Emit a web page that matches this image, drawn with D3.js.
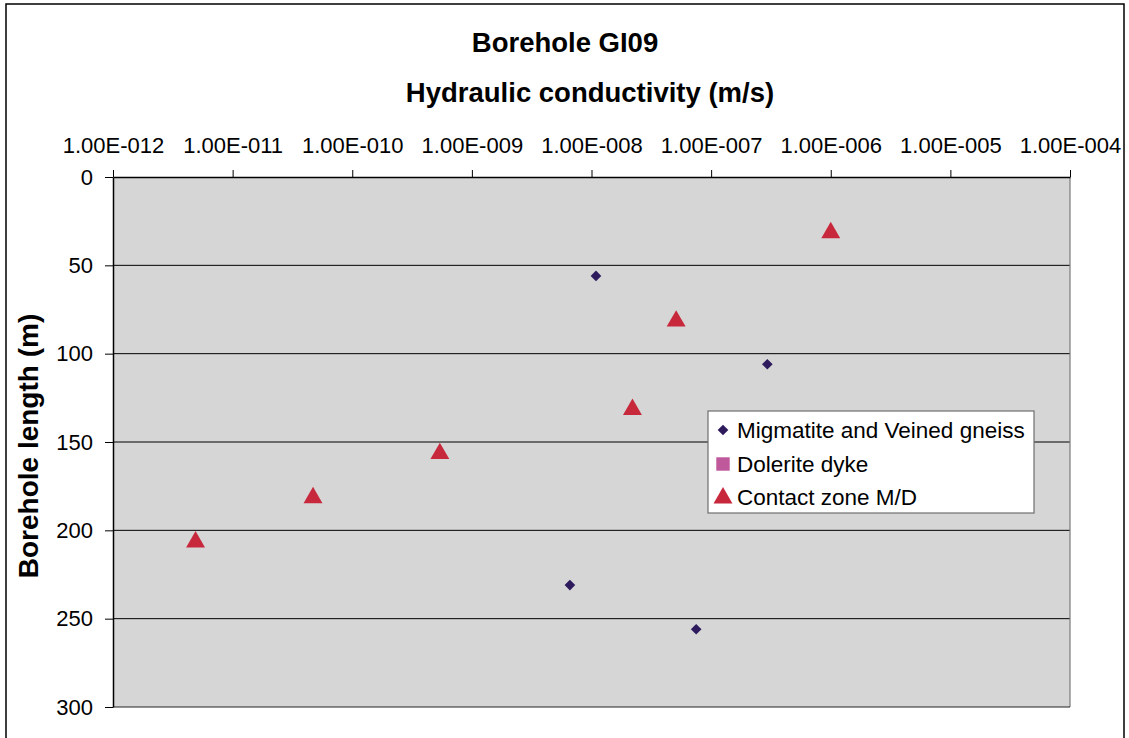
<!DOCTYPE html>
<html>
<head>
<meta charset="utf-8">
<script src="https://cdn.jsdelivr.net/npm/d3@7"></script>
<style>
  html, body { margin: 0; padding: 0; background: #fff; }
  svg text { font-family: Arial, "Liberation Sans", sans-serif; fill: #000; }
</style>
</head>
<body>
<svg id="chart" width="1129" height="738"></svg>
<script>
// ---- Data ----
const chartTitle = "Borehole GI09";
const xAxisTitle = "Hydraulic conductivity (m/s)";
const yAxisTitle = "Borehole length (m)";
const seriesNames = ["Migmatite and Veined gneiss", "Dolerite dyke", "Contact zone M/D"];

// Migmatite and Veined gneiss: [conductivity, borehole length]
const migmatiteK = [1.09e-8, 2.95e-7, 6.6e-9, 7.5e-8];
const migmatiteDepth = [56, 106, 231, 256];
// Dolerite dyke: no measured points
const doleriteK = [];
const doleriteDepth = [];
// Contact zone M/D
const contactK = [1.0e-6, 5.1e-8, 2.2e-8, 5.4e-10, 4.7e-11, 4.9e-12];
const contactDepth = [31, 81, 131, 156, 181, 206];

const xTickValues = [1e-12, 1e-11, 1e-10, 1e-9, 1e-8, 1e-7, 1e-6, 1e-5, 1e-4];
const yTickValues = [0, 50, 100, 150, 200, 250, 300];

// ---- Layout ----
const W = 1129, H = 738;
const plot = { left: 113, right: 1070, top: 177, bottom: 707 };
const colors = { mig: "#2d1b5e", dol: "#c0589c", con: "#c8283c" };

const svg = d3.select("#chart");

const x = d3.scaleLog().domain([1e-12, 1e-4]).range([plot.left, plot.right]);
const y = d3.scaleLinear().domain([0, 300]).range([plot.top, plot.bottom]);

function fmtSci(v) {
  const e = Math.round(Math.log10(v));
  const m = v / Math.pow(10, e);
  const sign = e < 0 ? "-" : "+";
  return m.toFixed(2) + "E" + sign + String(Math.abs(e)).padStart(3, "0");
}

// outer chart border
svg.append("rect")
  .attr("x", 6).attr("y", 4).attr("width", 1118).attr("height", 760)
  .attr("fill", "#fff").attr("stroke", "#000").attr("stroke-width", 1.5);

// plot area background
svg.append("rect")
  .attr("x", plot.left).attr("y", plot.top)
  .attr("width", plot.right - plot.left).attr("height", plot.bottom - plot.top)
  .attr("fill", "#d6d6d6");

// gridlines
svg.append("g").selectAll("line")
  .data(yTickValues.filter(d => d > 0 && d < 300))
  .join("line")
  .attr("x1", plot.left).attr("x2", plot.right)
  .attr("y1", d => y(d)).attr("y2", d => y(d))
  .attr("stroke", "#000").attr("stroke-width", 1);

// right & bottom border
svg.append("line").attr("x1", plot.right).attr("x2", plot.right)
  .attr("y1", plot.top).attr("y2", plot.bottom).attr("stroke", "#7a7a7a").attr("stroke-width", 1.2);
svg.append("line").attr("x1", plot.left).attr("x2", plot.right)
  .attr("y1", plot.bottom).attr("y2", plot.bottom).attr("stroke", "#222").attr("stroke-width", 1.2);

// top x axis
const xAxis = d3.axisTop(x).tickValues(xTickValues).tickFormat(fmtSci)
  .tickSizeInner(7).tickSizeOuter(0).tickPadding(17);
const gx = svg.append("g").attr("transform", `translate(0,${plot.top})`).call(xAxis);
gx.select(".domain").attr("stroke", "#000").attr("stroke-width", 1.5);
gx.selectAll(".tick line").attr("stroke", "#000").attr("stroke-width", 1);
gx.selectAll(".tick text").attr("font-size", 22).attr("fill", "#000")
  .attr("font-family", "Arial, 'Liberation Sans', sans-serif");

// left y axis
const yAxis = d3.axisLeft(y).tickValues(yTickValues).tickFormat(d3.format("d"))
  .tickSizeInner(8).tickSizeOuter(0).tickPadding(12);
const gy = svg.append("g").attr("transform", `translate(${plot.left},0)`).call(yAxis);
gy.select(".domain").attr("stroke", "#000").attr("stroke-width", 1.5);
gy.selectAll(".tick line").attr("stroke", "#000").attr("stroke-width", 1);
gy.selectAll(".tick text").attr("font-size", 22).attr("fill", "#000")
  .attr("font-family", "Arial, 'Liberation Sans', sans-serif");

// titles
svg.append("text").attr("x", 565).attr("y", 52).attr("text-anchor", "middle")
  .attr("font-size", 27.5).attr("font-weight", "bold").text(chartTitle);
svg.append("text").attr("x", 590).attr("y", 102).attr("text-anchor", "middle")
  .attr("font-size", 27.5).attr("font-weight", "bold").text(xAxisTitle);
svg.append("text")
  .attr("transform", `translate(38,${(plot.top + plot.bottom) / 2 + 4}) rotate(-90)`)
  .attr("text-anchor", "middle")
  .attr("font-size", 28).attr("font-weight", "bold").text(yAxisTitle);

// markers
const diamond = d3.symbol().type(d3.symbolDiamond2).size(72);
const square = d3.symbol().type(d3.symbolSquare).size(180);
const triangle = d3.symbol().type(d3.symbolTriangle).size(155);

const migData = migmatiteK.map((k, i) => ({ k, d: migmatiteDepth[i] }));
const dolData = doleriteK.map((k, i) => ({ k, d: doleriteDepth[i] }));
const conData = contactK.map((k, i) => ({ k, d: contactDepth[i] }));

const gm = svg.append("g");
gm.selectAll("path.mig").data(migData).join("path").attr("class", "mig")
  .attr("d", diamond).attr("fill", colors.mig)
  .attr("transform", d => `translate(${x(d.k)},${y(d.d)})`);
gm.selectAll("path.dol").data(dolData).join("path").attr("class", "dol")
  .attr("d", square).attr("fill", colors.dol)
  .attr("transform", d => `translate(${x(d.k)},${y(d.d)})`);
gm.selectAll("path.con").data(conData).join("path").attr("class", "con")
  .attr("d", triangle).attr("fill", colors.con)
  .attr("transform", d => `translate(${x(d.k)},${y(d.d) + 1})`);

// legend
const lg = svg.append("g");
lg.append("rect").attr("x", 708).attr("y", 411).attr("width", 326).attr("height", 102)
  .attr("fill", "#fff").attr("stroke", "#6e6e6e").attr("stroke-width", 1.2);
const legendSymbols = [diamond, square, triangle];
const legendColors = [colors.mig, colors.dol, colors.con];
const legendY = [430, 464, 497];
seriesNames.forEach((name, i) => {
  lg.append("path").attr("d", legendSymbols[i]).attr("fill", legendColors[i])
    .attr("transform", `translate(723,${legendY[i] + (i === 2 ? 1 : 0)})`);
  lg.append("text").attr("x", 737).attr("y", legendY[i]).attr("dy", "0.36em")
    .attr("font-size", 22.5).text(name);
});
</script>
</body>
</html>
